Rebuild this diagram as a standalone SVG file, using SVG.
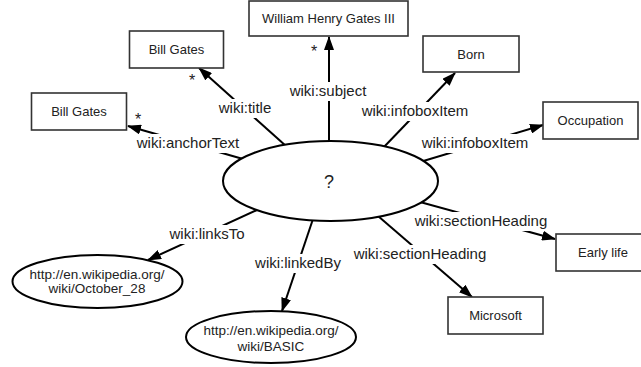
<svg xmlns="http://www.w3.org/2000/svg" width="641" height="367" viewBox="0 0 641 367">
<style>
  .box{fill:#fff;stroke:#333;stroke-width:1.6}
  .ell{fill:#fff;stroke:#000;stroke-width:2}
  .edge{stroke:#000;stroke-width:2;fill:none;marker-end:url(#arr)}
  .bt{font-family:"Liberation Sans",Arial,sans-serif;font-size:13px;fill:#222;text-anchor:middle}
  .et{font-family:"Liberation Sans",Arial,sans-serif;font-size:13.5px;fill:#222;text-anchor:middle}
  .lt{font-family:"Liberation Sans",Arial,sans-serif;font-size:15px;fill:#222;text-anchor:middle}
  .lbg{fill:#fff}
  .star{font-family:"Liberation Sans",Arial,sans-serif;font-size:16px;fill:#222;text-anchor:middle}
</style>
<defs>
  <marker id="arr" markerUnits="userSpaceOnUse" markerWidth="14" markerHeight="10" refX="13" refY="5" orient="auto">
    <path d="M0,0 L14,5 L0,10 Z" fill="#000"/>
  </marker>
</defs>
<g id="connectors">
  <line class="edge" x1="329" y1="143" x2="329" y2="37"/>
  <line class="edge" x1="286" y1="146" x2="199" y2="68"/>
  <line class="edge" x1="243" y1="159" x2="128" y2="126"/>
  <line class="edge" x1="383" y1="148" x2="455" y2="73"/>
  <line class="edge" x1="420" y1="162" x2="543" y2="125"/>
  <line class="edge" x1="420" y1="202" x2="555" y2="239"/>
  <line class="edge" x1="378" y1="216" x2="472" y2="297"/>
  <line class="edge" x1="257" y1="210" x2="148" y2="260"/>
  <line class="edge" x1="313" y1="219" x2="282" y2="311"/>
  <g id="labels">
    <rect class="lbg" x="286" y="82" width="84" height="19"/>
    <text class="lt" x="328" y="96">wiki:subject</text>
    <rect class="lbg" x="216" y="99" width="58" height="19"/>
    <text class="lt" x="245" y="113">wiki:title</text>
    <rect class="lbg" x="132" y="134" width="112" height="19"/>
    <text class="lt" x="188" y="148">wiki:anchorText</text>
    <rect class="lbg" x="358" y="102" width="115" height="19"/>
    <text class="lt" x="415" y="116">wiki:infoboxItem</text>
    <rect class="lbg" x="418" y="134" width="115" height="19"/>
    <text class="lt" x="475" y="148">wiki:infoboxItem</text>
    <rect class="lbg" x="410" y="212" width="142" height="19"/>
    <text class="lt" x="481" y="226">wiki:sectionHeading</text>
    <rect class="lbg" x="350" y="245" width="140" height="19"/>
    <text class="lt" x="420" y="259">wiki:sectionHeading</text>
    <rect class="lbg" x="165" y="225" width="84" height="19"/>
    <text class="lt" x="207" y="239">wiki:linksTo</text>
    <rect class="lbg" x="252" y="254" width="93" height="19"/>
    <text class="lt" x="298" y="268">wiki:linkedBy</text>
  </g>
  <text class="star" x="314" y="57">*</text>
  <text class="star" x="192" y="86">*</text>
  <text class="star" x="138" y="125">*</text>
</g>
<g id="center">
  <ellipse class="ell" cx="330.5" cy="181" rx="107.5" ry="40"/>
  <text class="lt" x="329" y="188" style="font-size:18px">?</text>
</g>
<g id="n-whg">
  <rect class="box" x="249" y="1" width="159" height="35"/>
  <text class="bt" x="328.5" y="23">William Henry Gates III</text>
</g>
<g id="n-billgates-title">
  <rect class="box" x="129.5" y="31" width="94" height="37"/>
  <text class="bt" x="176.5" y="54">Bill Gates</text>
</g>
<g id="n-billgates-anchor">
  <rect class="box" x="31.5" y="93" width="95" height="37"/>
  <text class="bt" x="79" y="116">Bill Gates</text>
</g>
<g id="n-born">
  <rect class="box" x="423" y="36" width="96" height="36"/>
  <text class="bt" x="471" y="59">Born</text>
</g>
<g id="n-occupation">
  <rect class="box" x="543" y="102" width="95" height="37"/>
  <text class="bt" x="590.5" y="125">Occupation</text>
</g>
<g id="n-earlylife">
  <rect class="box" x="556" y="234" width="95" height="37"/>
  <text class="bt" x="603" y="257">Early life</text>
</g>
<g id="n-microsoft">
  <rect class="box" x="448" y="297" width="95" height="37"/>
  <text class="bt" x="495.5" y="320">Microsoft</text>
</g>
<g id="n-october28">
  <ellipse class="ell" cx="97.5" cy="281.5" rx="85" ry="26.5"/>
  <text class="et" x="97" y="279">http://en.wikipedia.org/</text>
  <text class="et" x="97" y="293">wiki/October_28</text>
</g>
<g id="n-basic">
  <ellipse class="ell" cx="271" cy="337" rx="85" ry="26"/>
  <text class="et" x="271" y="335">http://en.wikipedia.org/</text>
  <text class="et" x="271" y="351">wiki/BASIC</text>
</g>
</svg>
